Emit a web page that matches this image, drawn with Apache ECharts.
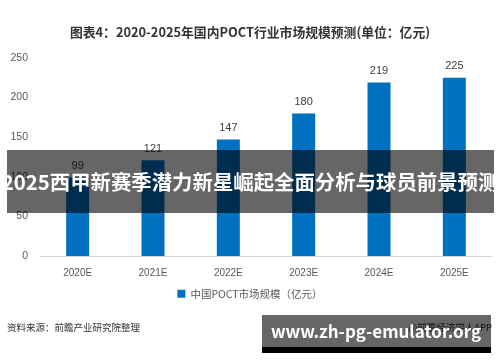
<!DOCTYPE html>
<html><head><meta charset="utf-8">
<script src="https://cdn.jsdelivr.net/npm/echarts@6/dist/echarts.min.js"></script>
<style>html,body{margin:0;padding:0;background:#fff}#c{width:500px;height:362px}</style>
</head><body><div id="c"></div>
<script>
const categories = ['2020E','2021E','2022E','2023E','2024E','2025E'];
const values = [99,121,147,180,219,225];
const yTicks = [0,50,100,150,200,250];
const seriesName = '中国POCT市场规模（亿元）';
const titleText = '图表4：2020-2025年国内POCT行业市场规模预测(单位：亿元)';
const bannerText = '2025西甲新赛季潜力新星崛起全面分析与球员前景预测';
const siteText = 'www.zh-pg-emulator.org';
const sourceText = '资料来源：前瞻产业研究院整理';
const appText = '@前瞻经济学人APP';

const chart = echarts.init(document.getElementById('c'));
chart.setOption({
  animation:false,
  title:{text:titleText,left:'center',top:21,textStyle:{fontSize:12.8,fontWeight:'bold',color:'#333',fontFamily:'Noto Sans CJK SC'}},
  grid:{left:40,right:8,top:58,bottom:106},
  legend:{bottom:58,left:'center',itemWidth:8,itemHeight:8,icon:'rect',
    textStyle:{fontSize:10.5,color:'#595959',fontFamily:'Noto Sans CJK SC'},data:[seriesName]},
  xAxis:{type:'category',data:categories,axisTick:{show:false},
    axisLine:{lineStyle:{color:'#d9d9d9'}},
    axisLabel:{color:'#595959',fontSize:10,margin:12,fontFamily:'Liberation Sans'}},
  yAxis:{type:'value',min:yTicks[0],max:yTicks[yTicks.length-1],interval:50,
    splitLine:{show:false},axisLine:{show:false},axisTick:{show:false},
    axisLabel:{color:'#595959',fontSize:10.5,margin:12,fontFamily:'Liberation Sans'}},
  series:[{name:seriesName,type:'bar',data:values,barWidth:23,z:2,
    itemStyle:{color:'#0070c0'},
    label:{show:true,position:'top',color:'#404040',fontSize:11,distance:6,fontFamily:'Liberation Sans'}}],
  graphic:[
    {type:'text',left:7,top:323,z:10,style:{text:sourceText,fontSize:9.5,fill:'#333',fontFamily:'Noto Sans CJK SC'}},
    {type:'text',right:8,top:323,z:10,style:{text:appText,fontSize:9.5,fill:'#333',fontFamily:'Noto Sans CJK SC'}},
    {type:'rect',z:100,shape:{x:7,y:150,width:487,height:63},style:{fill:'rgba(0,0,0,0.6)'}},
    {type:'text',z:101,x:250,y:182,style:{text:bannerText,fontSize:20.4,fontWeight:'bold',fill:'#fff',
      align:'center',verticalAlign:'middle',fontFamily:'Noto Sans CJK SC'}},
    {type:'rect',z:100,shape:{x:262,y:315,width:229,height:32},style:{fill:'rgba(0,0,0,0.6)'}},
    {type:'rect',z:100,shape:{x:262,y:347,width:229,height:6},style:{fill:'#000'}},
    {type:'text',z:101,x:376,y:332,style:{text:siteText,fontSize:17,fontWeight:'bold',fill:'#fff',
      align:'center',verticalAlign:'middle',fontFamily:'Noto Sans CJK SC'}}
  ]
});
</script></body></html>
